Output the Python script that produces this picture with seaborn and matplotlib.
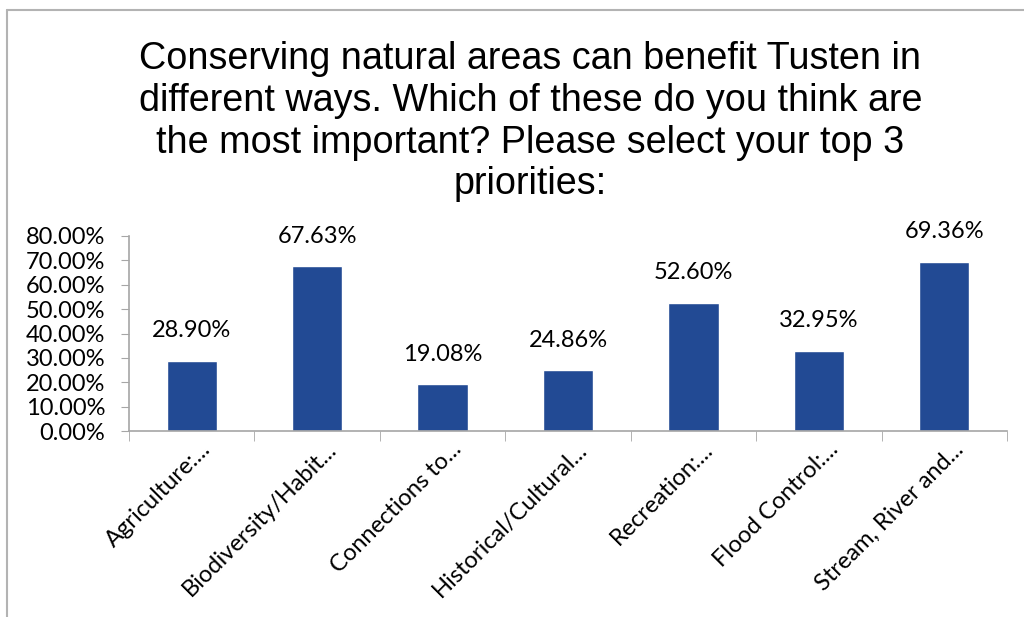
import numpy as np
import matplotlib.pyplot as plt
import matplotlib.ticker as mticker
import matplotlib.transforms as mtransforms
from matplotlib.lines import Line2D
import pandas as pd
import seaborn as sns

# Daten
categories = ['Agriculture:...', 'Biodiversity/Habit...', 'Connections to...',
              'Historical/Cultural...', 'Recreation:...', 'Flood Control:...',
              'Stream, River and...']
values = [28.90, 67.63, 19.08, 24.86, 52.60, 32.95, 69.36]
title = ('Conserving natural areas can benefit Tusten in\n'
         'different ways. Which of these do you think are\n'
         'the most important? Please select your top 3\n'
         'priorities:')

df = pd.DataFrame({'cat': categories, 'val': values})

sns.set_style('white')
plt.rcParams['font.family'] = ['Lato', 'DejaVu Sans']
plt.rcParams['text.color'] = 'black'

fig = plt.figure(figsize=(10.24, 6.17), dpi=100)
ax = fig.add_axes([129/1024, 1 - 431/617, (1007-129)/1024, (431-236)/617])

sns.barplot(data=df, x='cat', y='val', color='#224A94', width=0.4,
            saturation=1, ax=ax)

ax.set_ylim(0, 80)
ax.set_xlim(-0.5, len(categories) - 0.5)
ax.yaxis.set_major_locator(mticker.MultipleLocator(10))
ax.yaxis.set_major_formatter(mticker.FuncFormatter(lambda v, p: f'{v:.2f}%'))

# Achsen wie in Excel
for s in ['top', 'right']:
    ax.spines[s].set_visible(False)
for s in ['left', 'bottom']:
    ax.spines[s].set_color('#A6A6A6')
    ax.spines[s].set_linewidth(1.2)

ax.tick_params(axis='y', left=True, length=6, color='#A6A6A6', labelsize=17,
               pad=11, labelcolor='black')
ax.set_xticks(np.arange(len(categories) + 1) - 0.5, minor=True)
ax.tick_params(axis='x', which='minor', bottom=True, length=7, color='#A6A6A6')
ax.tick_params(axis='x', which='major', bottom=False, labelsize=17, pad=2,
               labelcolor='black')
ax.set_xticks(range(len(categories)))
ax.set_xticklabels(categories, rotation=45, ha='right', rotation_mode='anchor')
ax.set_xlabel('')
ax.set_ylabel('')

# Beschriftungen etwas nach rechts schieben
shift = mtransforms.ScaledTranslation(6/72, 0, fig.dpi_scale_trans)
for lbl in ax.get_xticklabels():
    lbl.set_transform(lbl.get_transform() + shift)

# Werte über den Balken
for i, v in enumerate(values):
    ax.annotate(f'{v:.2f}%', (i, v), xytext=(0, 14), textcoords='offset points',
                ha='center', va='bottom', fontsize=17, color='black')

fig.text(0.518, 0.933, title, ha='center', va='top', fontsize=27.2,
         family='Liberation Sans', linespacing=1.2, color='black')

# Rahmen links und oben
fig.add_artist(Line2D([7/1024, 7/1024], [0, 1 - 10/617], color='#B3B3B3',
                      lw=1.5, transform=fig.transFigure))
fig.add_artist(Line2D([7/1024, 1], [1 - 10/617, 1 - 10/617], color='#B3B3B3',
                      lw=1.5, transform=fig.transFigure))

fig.savefig('out.png', dpi=100)
